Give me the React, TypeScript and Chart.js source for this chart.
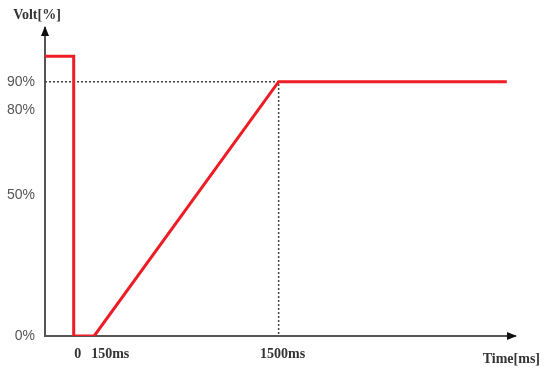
import React, { useEffect, useRef } from 'react';
import { Chart, registerables } from 'chart.js';
Chart.register(...registerables);

// Voltage profile (time in ms, voltage in %)
const timeMs = [-210, 0, 0, 150, 1500, 3170];
const voltPct = [99, 99, 0, 0, 90, 90];
// dotted guide lines at 90% / 1500ms
const guideTime = [-210, 1500, 1500];
const guideVolt = [90, 90, 0];
// ticks
const yTickValues = [0, 50, 80, 90];
const yTickLabels = ['0%', '50%', '80%', '90%'];
const xTickValues = [0, 150, 1500];
const xTickLabels = ['0', '150ms', '1500ms'];
const xMin = -210;
const xMax = 3230;
const yMin = 0;
const yMax = 109;
const yTitle = 'Volt[%]';
const xTitle = 'Time[ms]';

const SERIF_BOLD = 'bold 14px "Liberation Serif", serif';

const decorPlugin = {
  id: 'decor',
  afterDraw(chart: any) {
    const { ctx, chartArea } = chart;
    const { left, right, top, bottom } = chartArea;
    ctx.save();
    ctx.fillStyle = '#111';
    // y arrow
    ctx.beginPath();
    ctx.moveTo(left, top - 2);
    ctx.lineTo(left - 4, top + 8);
    ctx.lineTo(left + 4, top + 8);
    ctx.closePath();
    ctx.fill();
    // x arrow
    ctx.beginPath();
    ctx.moveTo(right + 2, bottom);
    ctx.lineTo(right - 8, bottom - 4);
    ctx.lineTo(right - 8, bottom + 4);
    ctx.closePath();
    ctx.fill();
    // x tick labels (avoid overlapping neighbours)
    ctx.fillStyle = '#333';
    ctx.font = SERIF_BOLD;
    ctx.textBaseline = 'middle';
    ctx.textAlign = 'left';
    const xs = chart.scales.x;
    let prevRight = -Infinity;
    xTickValues.forEach((v, i) => {
      const label = xTickLabels[i];
      const w = ctx.measureText(label).width;
      let x0 = xs.getPixelForValue(v) + 4 - w / 2;
      if (x0 < prevRight + 10) x0 = prevRight + 10;
      ctx.fillText(label, x0, bottom + 18);
      prevRight = x0 + w;
    });
    // titles
    ctx.textAlign = 'center';
    ctx.fillText(yTitle, 37, 15);
    ctx.textAlign = 'right';
    ctx.fillText(xTitle, 540, 359);
    ctx.restore();
  },
};

export default function App() {
  const ref = useRef<HTMLCanvasElement>(null);
  useEffect(() => {
    document.body.style.margin = '0';
    const chart = new Chart(ref.current!, {
      type: 'line',
      data: {
        datasets: [
          {
            data: timeMs.map((t, i) => ({ x: t, y: voltPct[i] })),
            borderColor: '#ee1c24',
            borderWidth: 3,
            pointRadius: 0,
            fill: false,
            tension: 0,
            order: 0,
          },
          {
            data: guideTime.map((t, i) => ({ x: t, y: guideVolt[i] })),
            borderColor: '#444',
            borderWidth: 1.5,
            borderDash: [2, 2],
            pointRadius: 0,
            fill: false,
            tension: 0,
            order: 1,
          },
        ],
      },
      plugins: [decorPlugin],
      options: {
        animation: false,
        responsive: false,
        maintainAspectRatio: false,
        layout: { padding: { left: 0, right: 35, top: 28, bottom: 0 } },
        plugins: { legend: { display: false }, tooltip: { enabled: false } },
        scales: {
          x: {
            type: 'linear',
            min: xMin,
            max: xMax,
            grid: { display: false },
            border: { display: true, color: '#555', width: 2 },
            afterBuildTicks: (s: any) => {
              s.ticks = xTickValues.map((v) => ({ value: v }));
            },
            afterFit: (s: any) => {
              s.height = 33;
            },
            ticks: { display: false },
          },
          y: {
            type: 'linear',
            min: yMin,
            max: yMax,
            grid: { display: false },
            border: { display: true, color: '#555', width: 2 },
            afterBuildTicks: (s: any) => {
              s.ticks = yTickValues.map((v) => ({ value: v }));
            },
            afterFit: (s: any) => {
              s.width = 45;
            },
            ticks: {
              autoSkip: false,
              padding: 2,
              color: '#555',
              font: { family: '"Liberation Sans", Arial, sans-serif', size: 14 },
              callback: (v: any) => {
                const i = yTickValues.indexOf(Number(v));
                return i >= 0 ? yTickLabels[i] : '';
              },
            },
          },
        },
      },
    });
    return () => chart.destroy();
  }, []);
  return (
    <div style={{ position: 'fixed', left: 0, top: 0, width: 550, height: 369, background: '#fff' }}>
      <canvas ref={ref} width={550} height={369} />
    </div>
  );
}
